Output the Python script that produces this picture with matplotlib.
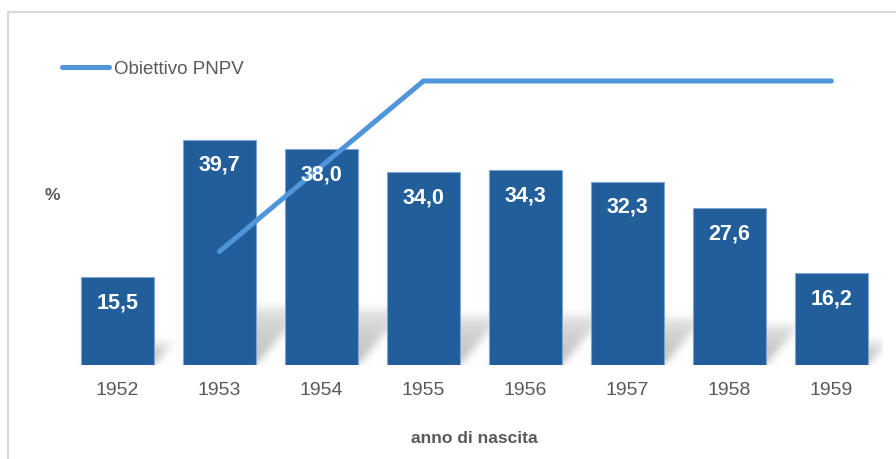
import matplotlib

matplotlib.use("Agg")
import matplotlib.pyplot as plt
import numpy as np
from matplotlib.patches import Rectangle

# Data
YEARS = ["1952", "1953", "1954", "1955", "1956", "1957", "1958", "1959"]
COVERAGE = [15.5, 39.7, 38.0, 34.0, 34.3, 32.3, 27.6, 16.2]
TARGET_YEARS = ["1953", "1954", "1955", "1956", "1957", "1958", "1959"]
TARGET = [20, 35, 50, 50, 50, 50, 50]

# Style
BAR_COLOR = "#215E9A"
BAR_EDGE = "#7FA6D3"
LINE_COLOR = "#4E95DA"
TEXT_GREY = "#595959"
FIG_W, FIG_H, DPI = 8.96, 4.59, 100
AX_RECT = [66.6 / 896, 94 / 459, 815.8 / 896, 340.8 / 459]
XLIM = (-0.5, 7.5)
YLIM = (0, 60)
BAR_WIDTH = 0.708


def blur(img, sigma):
    r = int(3 * sigma)
    k = np.exp(-0.5 * (np.arange(-r, r + 1) / sigma) ** 2)
    k /= k.sum()
    img = np.apply_along_axis(lambda v: np.convolve(v, k, mode="same"), 0, img)
    img = np.apply_along_axis(lambda v: np.convolve(v, k, mode="same"), 1, img)
    return img


def draw_bar_shadows(ax, heights, width, ratio=0.26, shear=0.85, ymax=18):
    # soft perspective shadow behind each bar, built on a pixel grid
    sx = AX_RECT[2] * FIG_W * DPI / (XLIM[1] - XLIM[0])
    sy = AX_RECT[3] * FIG_H * DPI / (YLIM[1] - YLIM[0])
    nx = int(round((XLIM[1] - XLIM[0]) * sx))
    ny = int(round(ymax * sy))
    px = np.arange(nx) + 0.5
    py = np.arange(ny) + 0.5
    X, Y = np.meshgrid(px, py)
    shade = np.zeros_like(X)
    for i, h in enumerate(heights):
        top = ratio * h * sy
        xl = (i - width / 2 - XLIM[0]) * sx + shear * Y
        xr = (i + width / 2 - XLIM[0]) * sx + shear * Y
        mask = (Y < top) & (X >= xl) & (X <= xr)
        val = np.clip(1 - Y / top, 0, 1) ** 0.35
        shade = np.maximum(shade, np.where(mask, val, 0))
    shade = blur(shade, 4.0)
    rgba = np.zeros((ny, nx, 4))
    rgba[..., :3] = 0.45
    rgba[..., 3] = 0.45 * shade
    ax.imshow(
        rgba,
        extent=[XLIM[0], XLIM[1], 0, ymax],
        origin="lower",
        aspect="auto",
        interpolation="bilinear",
        zorder=1,
    )


if __name__ == "__main__":
    plt.rcParams["font.family"] = ["Liberation Sans", "DejaVu Sans"]

    fig = plt.figure(figsize=(FIG_W, FIG_H), dpi=DPI)
    ax = fig.add_axes(AX_RECT)

    x = np.arange(len(YEARS))
    draw_bar_shadows(ax, COVERAGE, BAR_WIDTH)
    bars = ax.bar(
        x, COVERAGE, width=BAR_WIDTH, color=BAR_COLOR,
        edgecolor=BAR_EDGE, linewidth=0.8, zorder=2,
    )

    tx = [YEARS.index(y) for y in TARGET_YEARS]
    ax.plot(
        tx, TARGET, color=LINE_COLOR, linewidth=3.6,
        solid_capstyle="round", solid_joinstyle="miter",
        label="Obiettivo PNPV", zorder=3,
    )

    for rect, val in zip(bars, COVERAGE):
        ax.annotate(
            f"{val:.1f}".replace(".", ","),
            (rect.get_x() + rect.get_width() / 2, rect.get_height()),
            xytext=(0, -18.5), textcoords="offset points",
            ha="center", va="center", color="white",
            fontsize=15.5, fontweight="bold", zorder=4,
        )

    ax.set_xlim(XLIM)
    ax.set_ylim(YLIM)
    ax.set_xticks(x, YEARS)
    ax.set_yticks([])
    ax.tick_params(axis="x", length=0, pad=12, labelsize=14, labelcolor=TEXT_GREY)
    for s in ax.spines.values():
        s.set_visible(False)
    ax.set_xlabel("anno di nascita", fontsize=12.5, fontweight="bold",
                  color=TEXT_GREY, labelpad=23)

    fig.text(52 / 896, 1 - 196 / 459, "%", ha="center", va="center",
             fontsize=12.5, fontweight="bold", color=TEXT_GREY)

    fig.legend(
        loc="center left", bbox_to_anchor=(62 / 896, 1 - 69 / 459),
        frameon=False, fontsize=13.5, labelcolor=TEXT_GREY,
        handlelength=2.5, handletextpad=0.25, borderpad=0, borderaxespad=0,
    )

    # chart frame
    fig.add_artist(Rectangle(
        (8 / 896, -0.1), 1.0, 1 - 12 / 459 + 0.1, transform=fig.transFigure,
        fill=False, edgecolor="#D9D9D9", linewidth=1.5,
    ))

    fig.savefig("out.png", dpi=DPI)
